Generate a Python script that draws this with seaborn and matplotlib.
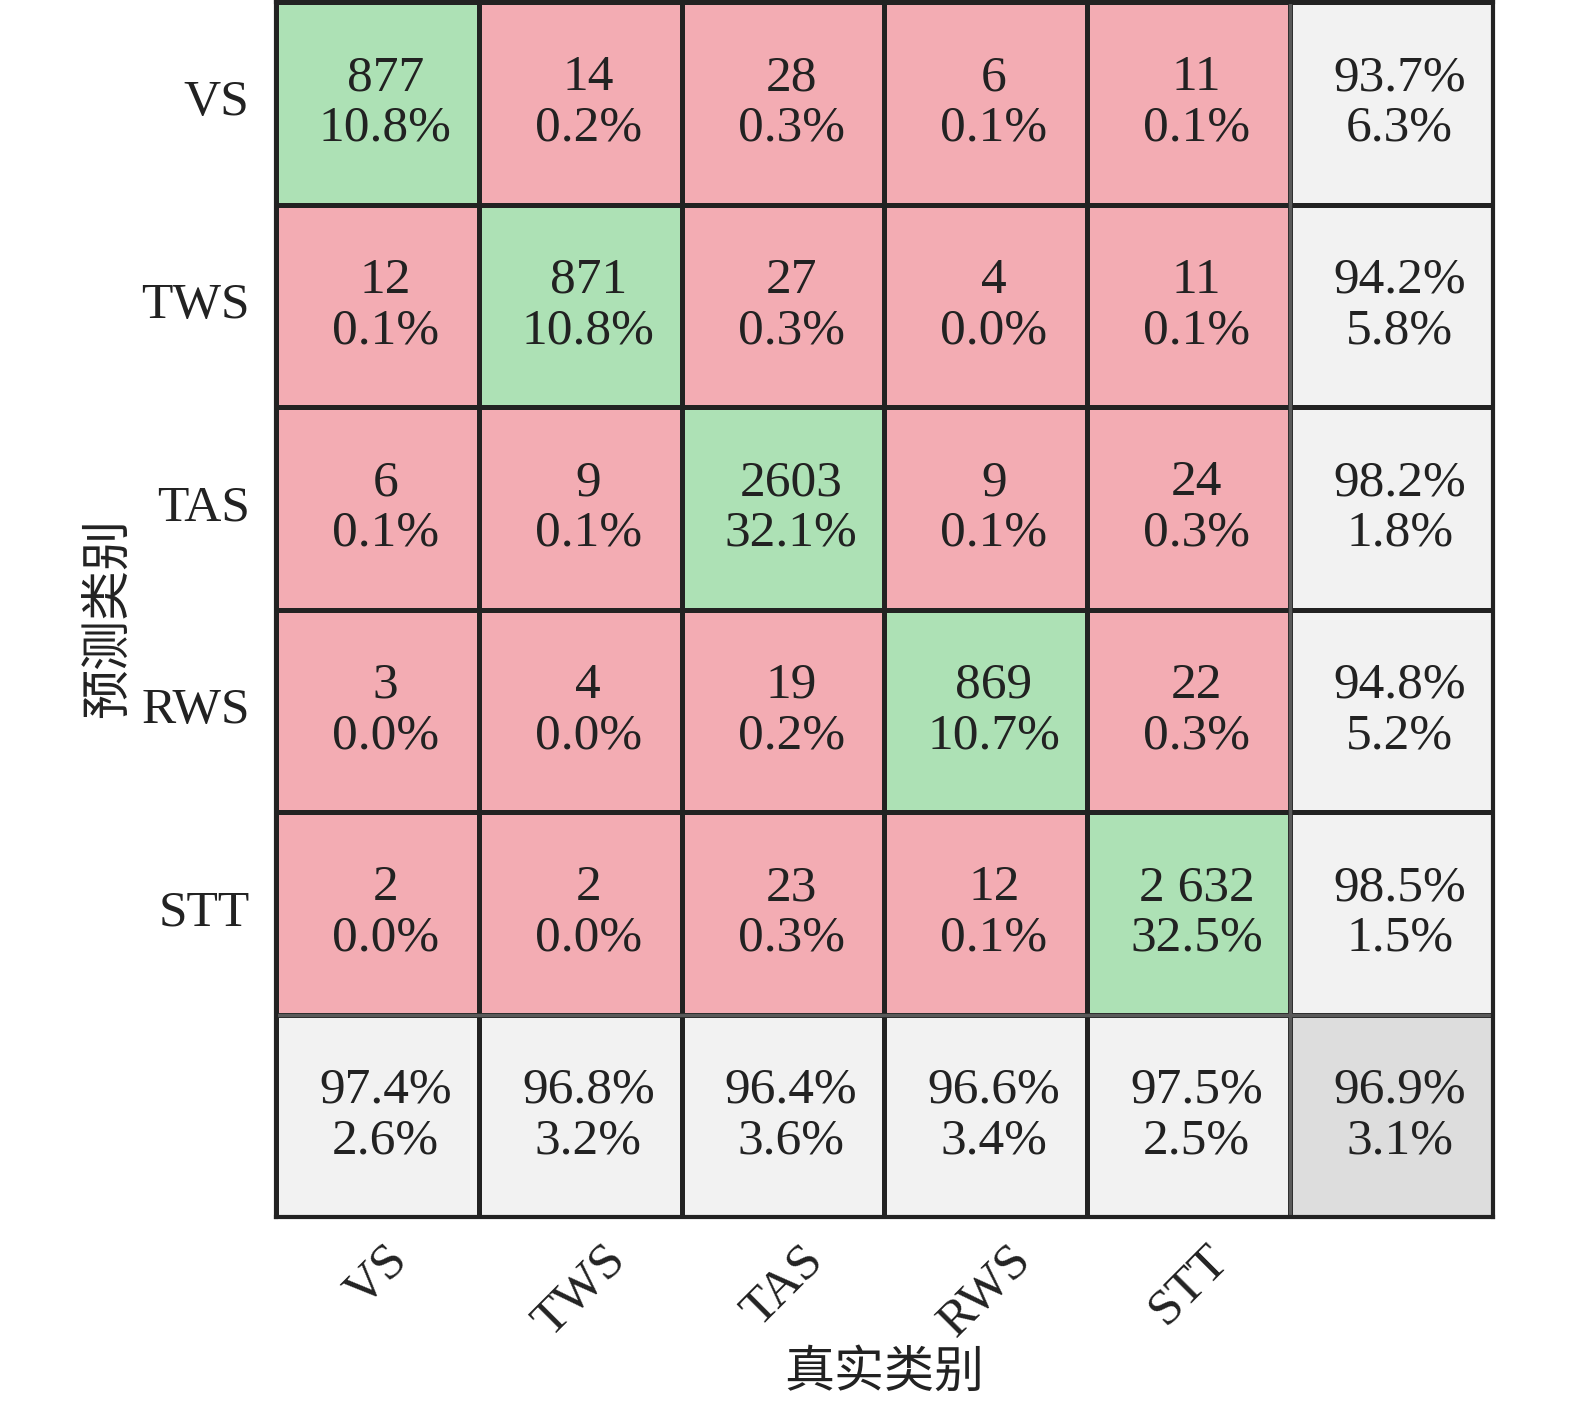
import numpy as np
import pandas as pd
import seaborn as sns
import matplotlib
matplotlib.use("Agg")
import matplotlib.pyplot as plt
import matplotlib.transforms as mtrans
from matplotlib.colors import ListedColormap

# ---- data (rows: predicted class, columns: true class) ----
classes = ["VS", "TWS", "TAS", "RWS", "STT"]
counts_vs = [877, 14, 28, 6, 11]
counts_tws = [12, 871, 27, 4, 11]
counts_tas = [6, 9, 2603, 9, 24]
counts_rws = [3, 4, 19, 869, 22]
counts_stt = [2, 2, 23, 12, 2632]
count_text_override = {(4, 4): "2 632"}
x_title = "真实类别"
y_title = "预测类别"

sns.set_theme(style="white")
plt.rcParams['font.family'] = ['Liberation Serif', 'Noto Sans CJK SC']

C = np.array([counts_vs, counts_tws, counts_tas, counts_rws, counts_stt])
n = len(classes)
total = C.sum()
diag = np.diag(C)
prec = diag / C.sum(axis=1) * 100
rec = diag / C.sum(axis=0) * 100
acc = diag.sum() / total * 100

codes = np.zeros((n + 1, n + 1))
annot = np.empty((n + 1, n + 1), dtype=object)
for i in range(n):
    for j in range(n):
        codes[i, j] = 1 if i == j else 0
        txt = count_text_override.get((i, j), str(C[i, j]))
        annot[i, j] = f"{txt}\n{C[i, j] / total * 100:.1f}%"
    codes[i, n] = 2
    annot[i, n] = f"{prec[i]:.1f}%\n{100 - prec[i]:.1f}%"
for j in range(n):
    codes[n, j] = 2
    annot[n, j] = f"{rec[j]:.1f}%\n{100 - rec[j]:.1f}%"
codes[n, n] = 3
annot[n, n] = f"{acc:.1f}%\n{100 - acc:.1f}%"

df = pd.DataFrame(codes)
cmap = ListedColormap(["#F3ACB3", "#ADE1B5", "#F2F2F2", "#DDDDDD"])

fig = plt.figure(figsize=(15.75, 14.01), dpi=100)
ax = fig.add_axes([276 / 1575, 1 - 1217 / 1401, 1217 / 1575, 1215 / 1401])
sns.heatmap(df, ax=ax, cmap=cmap, vmin=-0.5, vmax=3.5, cbar=False,
            annot=annot, fmt="", linewidths=2.5, linecolor="#222222",
            annot_kws=dict(fontsize=37, color="#222222", linespacing=1.12,
                           family="Liberation Serif"))

# small rightward shift of cell texts, as in the reference
shift = mtrans.offset_copy(ax.transData, fig=fig, x=8, y=0, units="dots")
for t in ax.texts:
    t.set_transform(shift)

ax.axhline(n, color="#5a5a5a", lw=2.5)
ax.axvline(n, color="#5a5a5a", lw=2.5)
for s in ax.spines.values():
    s.set_visible(True)
    s.set_color("#222222")
    s.set_linewidth(3)

ax.set_xticks(np.arange(n) + 0.5)
ax.set_xticklabels(classes, rotation=45, ha="center", va="top",
                   fontsize=37, color="#222222", family="Liberation Serif")
ax.set_yticks(np.arange(n) + 0.5)
ax.set_yticklabels(classes, rotation=0, va="center",
                   fontsize=37, color="#222222", family="Liberation Serif")
ax.tick_params(axis="x", length=0, pad=14)
ax.tick_params(axis="y", length=0, pad=19)

ax.set_xlabel(x_title, fontsize=36, color="#222222",
              family=["Noto Sans CJK SC", "DejaVu Sans"])
ax.set_ylabel(y_title, fontsize=36, color="#222222",
              family=["Noto Sans CJK SC", "DejaVu Sans"])
ax.xaxis.set_label_coords(0.5, -0.107)
ax.yaxis.set_label_coords(-0.117, 0.493)

fig.savefig("out.png", dpi=100)
